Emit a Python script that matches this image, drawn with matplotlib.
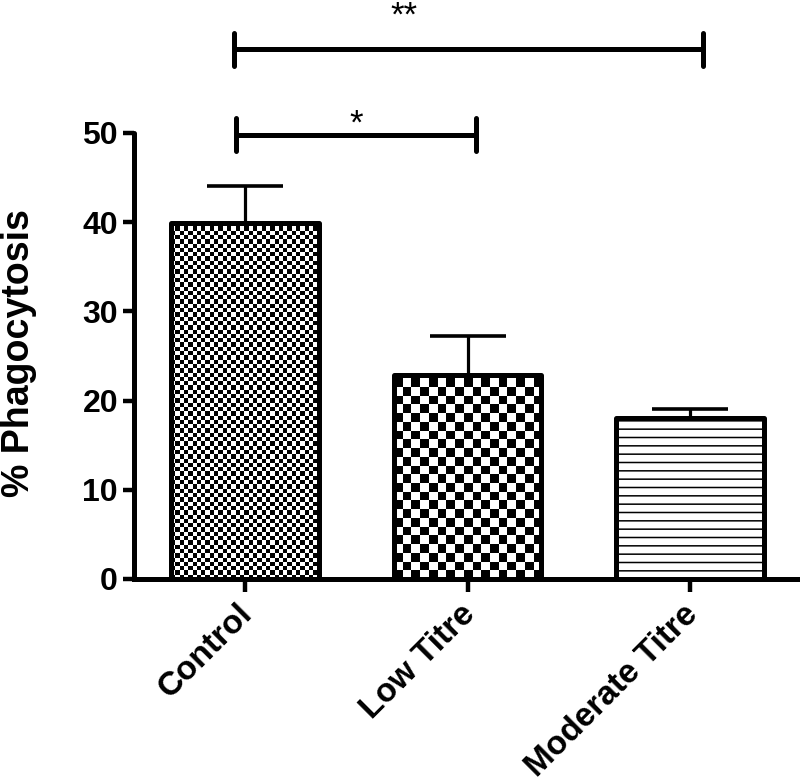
import numpy as np
import matplotlib
matplotlib.use("Agg")
import matplotlib.pyplot as plt
import matplotlib.transforms as mtransforms

plt.rcParams['font.family'] = ['Liberation Sans', 'DejaVu Sans']
plt.rcParams['hatch.linewidth'] = 1.1

categories = ["Control", "Low Titre", "Moderate Titre"]
means = [39.9, 22.9, 18.05]
sem = [4.1, 4.35, 1.0]
patterns = ["fine_check", "coarse_check", "hlines"]
# (x start, x end, bracket level, star x, star baseline, label)
sig_pairs = [(-0.04, 1.04, 49.8, 0.50, 49.9, "*"), (-0.05, 2.06, 59.4, 0.715, 62.0, "**")]

fig = plt.figure(figsize=(8.0, 7.82), dpi=100)
ax = fig.add_axes([134/800, 1-579/782, (798-134)/800, 579/782])

x = np.arange(len(categories))
width = 0.663
ax.set_xlim(-0.499, 2.485)
ax.set_ylim(0, 64.9)

fills = ax.bar(x, means, width=width, facecolor='white', edgecolor='none', zorder=1)

fig.canvas.draw()
p0 = ax.transData.transform((0, 0))
p1 = ax.transData.transform((1, 1))
px_x = p1[0] - p0[0]
px_y = p1[1] - p0[1]

for rect, pat in zip(fills, patterns):
    x0 = rect.get_x(); w = rect.get_width(); h = rect.get_height()
    if pat == "hlines":
        rect.set_hatch('--')
        rect.set_edgecolor('black')
        rect.set_linewidth(0)
        continue
    sq = 4.3 if pat == "fine_check" else 8.7
    cw = sq / px_x; ch = sq / px_y
    nx = int(np.ceil(w / cw)) + 1
    ny = int(np.ceil(h / ch)) + 1
    ii, jj = np.indices((ny, nx))
    arr = ((ii + jj) % 2).astype(float)
    im = ax.imshow(arr, cmap='gray', vmin=0, vmax=1, interpolation='nearest',
                   extent=(x0, x0 + nx * cw, 0, ny * ch), origin='lower',
                   aspect='auto', zorder=1.5)
    im.set_clip_path(rect)

ax.set_xlim(-0.499, 2.485)
ax.set_ylim(0, 64.9)

ax.errorbar(x, means, yerr=[np.zeros(len(sem)), sem], fmt='none', ecolor='black',
            elinewidth=2.3, capsize=27.5, capthick=2.6, zorder=2)

outl = ax.bar(x, means, width=width, fill=False, edgecolor='black', linewidth=3.6, zorder=3)
for r in outl:
    r.set_joinstyle('round')

for xa, xb, yl, xs, ys, s in sig_pairs:
    ax.plot([xa, xb], [yl, yl], color='black', lw=3.6, solid_capstyle='butt', clip_on=False, zorder=4)
    for xx in (xa, xb):
        ax.plot([xx, xx], [yl - 1.85, yl + 1.85], color='black', lw=3.6,
                solid_capstyle='round', clip_on=False, zorder=4)
    ax.text(xs, ys, s, ha='center', va='baseline', fontsize=25, color='black')

for side in ('top', 'right'):
    ax.spines[side].set_visible(False)
ax.spines['left'].set_bounds(0, 50)
ax.spines['left'].set_linewidth(3.6)
ax.spines['bottom'].set_linewidth(3.6)
ax.spines['left'].set_capstyle('round')

ax.set_yticks([0, 10, 20, 30, 40, 50])
ax.set_xticks(x)
ax.set_xticklabels(categories, rotation=45, ha='right', va='top', rotation_mode='anchor',
                   fontsize=24, fontweight='bold')
ax.tick_params(axis='y', direction='out', length=8, width=3.2, pad=3.5, labelsize=23)
ax.tick_params(axis='x', direction='out', length=9, width=3.2, pad=5)
for lab in ax.get_yticklabels():
    lab.set_fontweight('bold')
shift = mtransforms.ScaledTranslation(-8/100, 0, fig.dpi_scale_trans)
for lab in ax.get_xticklabels():
    lab.set_transform(lab.get_transform() + shift)

ax.set_ylabel("% Phagocytosis", fontsize=27, fontweight='bold')
ax.yaxis.set_label_coords(-0.146, 0.39)

fig.savefig("out.png", dpi=100)
